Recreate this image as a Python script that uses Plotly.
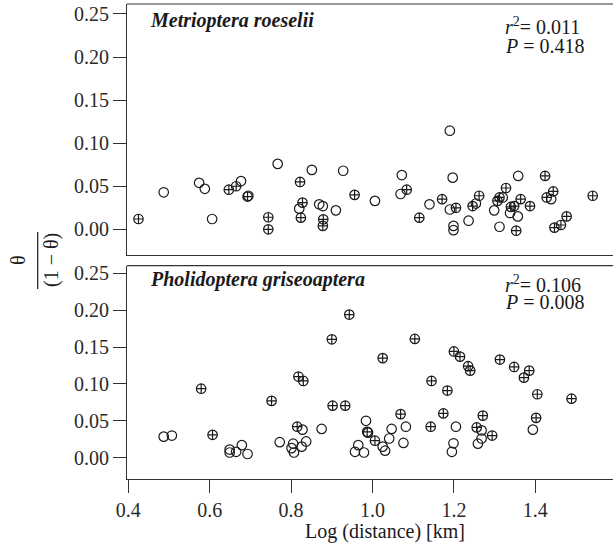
import plotly.graph_objects as go

# ---------------- data ----------------
# Metrioptera roeselii (top panel)
top_cross_x = [0.425, 0.647, 0.665, 0.693, 0.744, 0.744, 0.822, 0.956, 1.084, 0.828, 0.824,
               0.879, 0.878, 1.115, 1.171, 1.205, 1.424, 1.328, 1.262, 1.364, 1.444, 1.428,
               1.541, 1.246, 1.307, 1.312, 1.340, 1.348, 1.387, 1.353, 1.447, 1.463, 1.477]
top_cross_y = [0.012, 0.046, 0.050, 0.038, 0.014, 0.000, 0.055, 0.040, 0.046, 0.031, 0.0135,
               0.0116, 0.004, 0.0135, 0.035, 0.025, 0.062, 0.048, 0.039, 0.035, 0.044, 0.037,
               0.039, 0.027, 0.033, 0.037, 0.026, 0.027, 0.027, -0.0016, 0.002, 0.005, 0.015]
top_open_x = [0.487, 0.574, 0.588, 0.606, 0.677, 0.695, 0.767, 0.851, 0.928, 1.072, 1.190,
              1.197, 1.069, 1.006, 0.820, 0.869, 0.878, 0.910, 1.140, 1.190, 1.199, 1.199,
              1.358, 1.320, 1.439, 1.254, 1.299, 1.338, 1.357, 1.236, 1.312]
top_open_y = [0.043, 0.054, 0.047, 0.012, 0.056, 0.039, 0.076, 0.069, 0.068, 0.063, 0.1145,
              0.060, 0.041, 0.033, 0.024, 0.029, 0.027, 0.022, 0.029, 0.023, 0.004, -0.001,
              0.062, 0.037, 0.035, 0.030, 0.022, 0.019, 0.015, 0.010, 0.003]

# Pholidoptera griseoaptera (bottom panel)
bot_cross_x = [0.579, 0.752, 0.607, 0.943, 0.900, 1.104, 1.200, 1.025, 0.818, 0.830, 1.145,
               1.184, 0.902, 0.933, 1.069, 1.174, 0.815, 0.987, 1.006, 1.143, 1.215, 1.235,
               1.240, 1.313, 1.348, 1.385, 1.372, 1.405, 1.489, 1.271, 1.402, 1.256, 1.294]
bot_cross_y = [0.0935, 0.077, 0.031, 0.194, 0.1605, 0.161, 0.144, 0.135, 0.110, 0.104, 0.104,
               0.091, 0.0705, 0.0705, 0.059, 0.060, 0.042, 0.035, 0.023, 0.042, 0.137, 0.124,
               0.118, 0.133, 0.123, 0.118, 0.1085, 0.086, 0.080, 0.057, 0.054, 0.041, 0.030]
bot_open_x = [0.487, 0.507, 0.649, 0.649, 0.665, 0.679, 0.693, 0.772, 0.828, 0.875, 0.984,
              0.989, 1.047, 1.082, 1.041, 1.076, 1.025, 1.031, 0.965, 0.957, 0.979, 0.837,
              0.826, 0.805, 0.807, 0.801, 1.205, 1.199, 1.195, 1.268, 1.268, 1.259, 1.394]
bot_open_y = [0.0285, 0.030, 0.011, 0.007, 0.008, 0.017, 0.005, 0.021, 0.038, 0.039, 0.050,
              0.034, 0.039, 0.042, 0.026, 0.020, 0.015, 0.0095, 0.017, 0.008, 0.007, 0.022,
              0.015, 0.019, 0.007, 0.013, 0.042, 0.0195, 0.008, 0.037, 0.026, 0.019, 0.038]

y_ticks = [0.00, 0.05, 0.10, 0.15, 0.20, 0.25]
x_ticks = [0.4, 0.6, 0.8, 1.0, 1.2, 1.4]

panel_titles = ["Metrioptera roeselii", "Pholidoptera griseoaptera"]
stats_r2 = ["0.011", "0.106"]
stats_p = ["0.418", "0.008"]

# ---------------- figure ----------------
INK = "#1a1a1a"
AX = "#333333"
FONT = "Liberation Serif, Times New Roman, Times, DejaVu Serif, serif"

fig = go.Figure()

def add_pts(x, y, sym, xa, ya):
    fig.add_trace(go.Scatter(
        x=x, y=y, mode="markers", xaxis=xa, yaxis=ya, showlegend=False,
        marker=dict(symbol=sym, size=9.5, color=INK, line=dict(width=1.2, color=INK)),
    ))

add_pts(top_open_x, top_open_y, "circle-open", "x", "y")
add_pts(top_cross_x, top_cross_y, "circle-cross-open", "x", "y")
add_pts(bot_open_x, bot_open_y, "circle-open", "x2", "y2")
add_pts(bot_cross_x, bot_cross_y, "circle-cross-open", "x2", "y2")

xrange = [0.3968, 1.5909]
common_y = dict(
    tickvals=y_ticks, tickformat=".2f", ticks="outside", ticklen=13, tickwidth=1.2,
    tickcolor=AX, showline=True, linecolor=AX, linewidth=1.2, showgrid=False,
    zeroline=False, tickfont=dict(family=FONT, size=20, color="#2a2a2a"),
)
fig.update_layout(
    width=613, height=547,
    margin=dict(l=127, r=0, t=4, b=68),
    plot_bgcolor="white", paper_bgcolor="white",
    font=dict(family=FONT, size=20, color=INK),
    xaxis=dict(domain=[0, 1], anchor="y", range=xrange, showline=True, linecolor=AX,
               linewidth=1.2, showticklabels=False, ticks="", showgrid=False, zeroline=False),
    yaxis=dict(domain=[0.4716, 1], anchor="x", range=[-0.0298, 0.2616], **common_y),
    xaxis2=dict(domain=[0, 1], anchor="y2", range=xrange, tickvals=x_ticks, tickformat=".1f",
                ticks="outside", ticklen=13, tickwidth=1.2, tickcolor=AX, showline=True,
                linecolor=AX, linewidth=1.2, showgrid=False, zeroline=False,
                tickfont=dict(family=FONT, size=20, color="#2a2a2a")),
    yaxis2=dict(domain=[0, 0.4491], anchor="x2", range=[-0.0289, 0.2603], **common_y),
)

# top borders of each panel
for ytop in [1.0, 0.4491]:
    fig.add_shape(type="line", xref="paper", yref="paper", x0=0, x1=1, y0=ytop, y1=ytop,
                  line=dict(color=AX, width=1.2))

# panel titles
for t, yp in zip(panel_titles, [0.9648, 0.419]):
    fig.add_annotation(text="<b><i>" + t + "</i></b>", xref="paper", yref="paper",
                       x=0.0432, y=yp, xanchor="left", yanchor="middle", showarrow=False,
                       font=dict(family=FONT, size=20, color=INK))

# statistics
for r2, p, yr, yp in zip(stats_r2, stats_p, [0.9516, 0.4084], [0.9116, 0.3733]):
    fig.add_annotation(text="<i>r</i><sup>2</sup>= " + r2, xref="paper", yref="paper",
                       x=0.7745, y=yr + 0.003, xanchor="left", yanchor="middle", showarrow=False,
                       font=dict(family=FONT, size=20, color=INK))
    fig.add_annotation(text="<i>P</i> = " + p, xref="paper", yref="paper",
                       x=0.7745, y=yp, xanchor="left", yanchor="middle", showarrow=False,
                       font=dict(family=FONT, size=20, color=INK))

# x-axis title
fig.add_annotation(text="Log (distance) [km]", xref="paper", yref="paper",
                   x=0.531, y=(479 - 531.7) / 475, xanchor="center", yanchor="middle",
                   showarrow=False, font=dict(family=FONT, size=20, color=INK))

# y-axis title: theta / (1 - theta), rotated
fig.add_annotation(text="θ", xref="paper", yref="paper", x=(18 - 127) / 486, y=0.461,
                   xanchor="center", yanchor="middle", textangle=-90, showarrow=False,
                   font=dict(family=FONT, size=20, color=INK))
fig.add_annotation(text="(1 − θ)", xref="paper", yref="paper", x=(51 - 127) / 486, y=0.461,
                   xanchor="center", yanchor="middle", textangle=-90, showarrow=False,
                   font=dict(family=FONT, size=20, color=INK))
fig.add_shape(type="line", xref="paper", yref="paper",
              x0=(37.7 - 127) / 486, x1=(37.7 - 127) / 486,
              y0=(479 - 289) / 475, y1=(479 - 232) / 475,
              line=dict(color=INK, width=1.2))

# remove the default page margin so the figure sits at the window's top-left corner
fig.write_html("out.html", config={"displayModeBar": False},
               post_script="document.body.style.margin='0';")
